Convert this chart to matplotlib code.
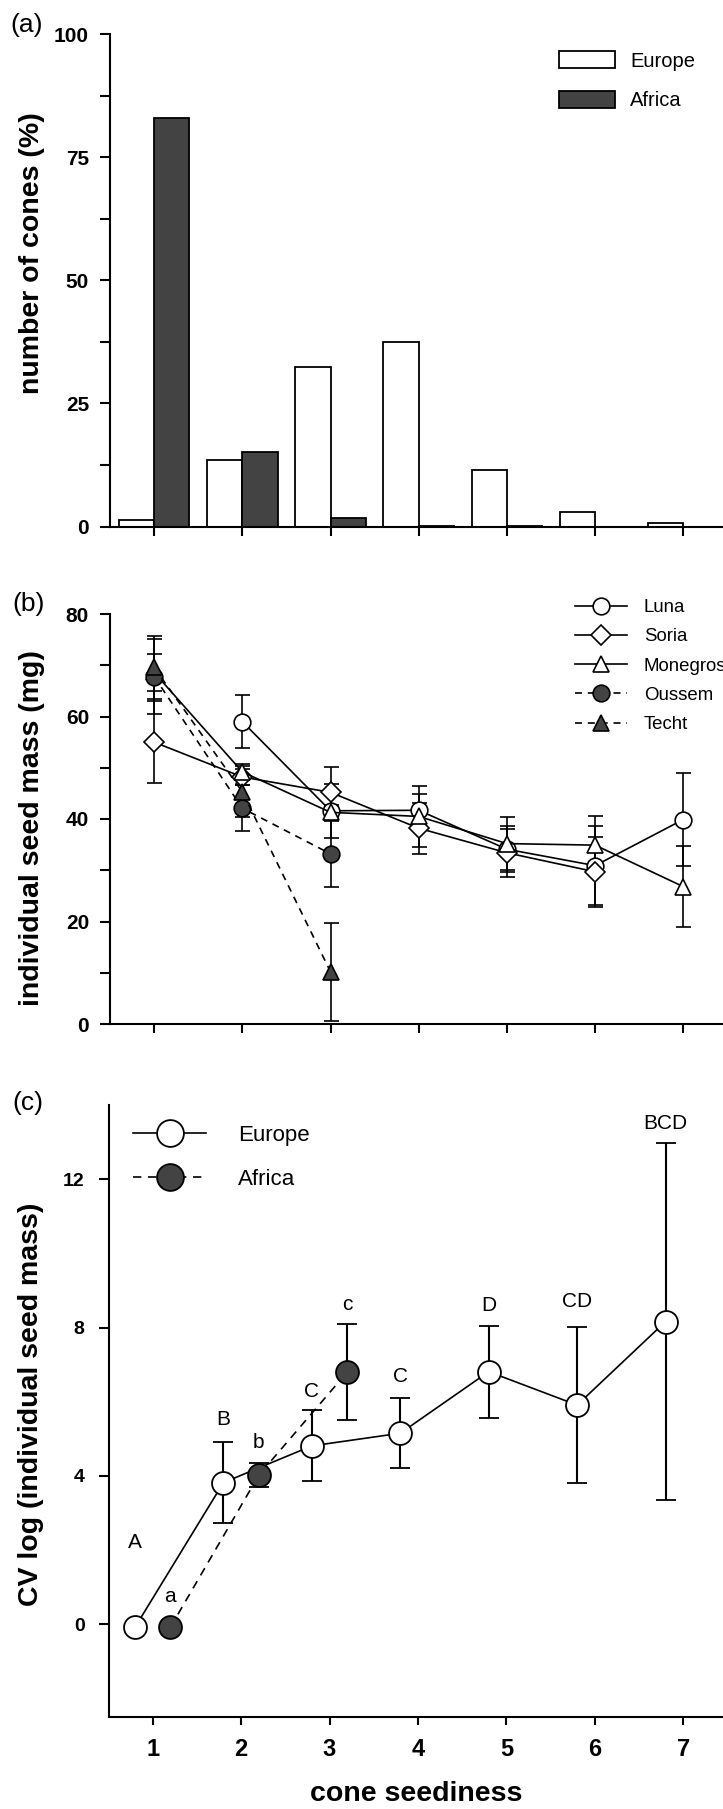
import numpy as np
import matplotlib
matplotlib.use("Agg")
import matplotlib.pyplot as plt
from matplotlib.patches import Patch

plt.rcParams['font.family'] = ['Liberation Sans', 'DejaVu Sans']

# ---- data ----
seediness = [1, 2, 3, 4, 5, 6, 7]
europe_pct = [1.3, 13.6, 32.4, 37.5, 11.5, 2.9, 0.7]
africa_pct = [83.0, 15.2, 1.7, 0.2, 0.2, 0.0, 0.0]

luna_x = [2, 3, 4, 5, 6, 7]
luna_y = [59.0, 41.6, 41.7, 34.1, 30.9, 39.9]
luna_err = [5.2, 5.3, 3.1, 4.5, 7.7, 9.0]
soria_x = [1, 2, 3, 4, 5, 6]
soria_y = [55.0, 48.2, 45.2, 38.2, 33.4, 29.7]
soria_err = [8.0, 1.5, 5.0, 5.0, 4.7, 6.8]
monegros_x = [1, 2, 3, 4, 5, 6, 7]
monegros_y = [68.6, 49.2, 41.3, 40.5, 35.2, 34.9, 26.8]
monegros_err = [3.6, 1.5, 1.5, 5.9, 5.1, 5.6, 7.9]
oussem_x = [1, 2, 3]
oussem_y = [67.8, 42.1, 33.2]
oussem_err = [7.3, 4.5, 6.5]
techt_x = [1, 2, 3]
techt_y = [69.6, 45.3, 10.2]
techt_err = [6.2, 5.0, 9.6]

cv_eu_x = [0.8, 1.8, 2.8, 3.8, 4.8, 5.8, 6.8]
cv_eu_y = [-0.08, 3.82, 4.81, 5.15, 6.81, 5.91, 8.16]
cv_eu_err = [0.0, 1.1, 0.96, 0.95, 1.24, 2.1, 4.82]
cv_eu_letters = ['A', 'B', 'C', 'C', 'D', 'CD', 'BCD']
cv_eu_letter_y = [2.21, 5.52, 6.27, 6.67, 8.6, 8.69, 13.49]
cv_af_x = [1.2, 2.2, 3.2]
cv_af_y = [-0.08, 4.02, 6.8]
cv_af_err = [0.0, 0.33, 1.3]
cv_af_letters = ['a', 'b', 'c']
cv_af_letter_y = [0.75, 4.89, 8.62]

GREY = '#434343'
W, H = 723, 1809

fig = plt.figure(figsize=(W / 100, H / 100), dpi=100)


def px_axes(left, top, right, bottom):
    return fig.add_axes([left / W, 1 - bottom / H, (right - left) / W, (bottom - top) / H])


def style(ax):
    for s in ['top', 'right']:
        ax.spines[s].set_visible(False)
    for s in ['left', 'bottom']:
        ax.spines[s].set_linewidth(1.5)
    ax.tick_params(axis='y', which='major', direction='out', length=7.2, width=1.5, pad=7.9,
                   labelsize=15)
    ax.tick_params(axis='y', which='minor', direction='out', length=7.2, width=1.5)
    ax.tick_params(axis='x', which='major', direction='out', length=6.2, width=1.5)
    ax.set_xlim(0.5, 7.45)
    ax.set_xticks(seediness)
    for lab in ax.get_yticklabels():
        lab.set_fontweight('bold')


# ---- (a) ----
ax_a = px_axes(110, 34, 723, 526.5)
x = np.array(seediness)
ax_a.bar(x - 0.2, europe_pct, width=0.4, color='white', edgecolor='black', linewidth=1.3, zorder=2)
ax_a.bar(x + 0.2, africa_pct, width=0.4, color=GREY, edgecolor='black', linewidth=1.3, zorder=2)
ax_a.set_ylim(0, 100)
ax_a.set_yticks([0, 25, 50, 75, 100])
ax_a.set_yticks([12.5, 37.5, 62.5, 87.5], minor=True)
style(ax_a)
ax_a.set_xticklabels([])
ax_a.legend(handles=[Patch(facecolor='white', edgecolor='black', linewidth=1.3, label='Europe'),
                     Patch(facecolor=GREY, edgecolor='black', linewidth=1.3, label='Africa')],
            loc='upper left', bbox_to_anchor=(559 / W, 1 - 51 / H), bbox_transform=fig.transFigure,
            frameon=False, fontsize=14.5, handlelength=2.78, handleheight=0.95,
            handletextpad=0.75, labelspacing=1.0, borderpad=0, borderaxespad=0)

# ---- (b) ----
ax_b = px_axes(110, 614, 723, 1024)
dash = (0, (4.2, 3.5))
common = dict(color='black', lw=1.2, ms=12, mew=1.2, mec='black', capsize=5.4,
              elinewidth=1.2, capthick=1.5)
ax_b.errorbar(luna_x, luna_y, yerr=luna_err, marker='o', mfc='white', ls='-', label='Luna', **common)
ax_b.errorbar(soria_x, soria_y, yerr=soria_err, marker='D', mfc='white', ls='-', label='Soria',
              **{**common, 'ms': 10})
ax_b.errorbar(monegros_x, monegros_y, yerr=monegros_err, marker='^', mfc='white', ls='-',
              label='Monegros', **common)
ax_b.errorbar(oussem_x, oussem_y, yerr=oussem_err, marker='o', mfc=GREY, ls=dash, label='Oussem', **common)
ax_b.errorbar(techt_x, techt_y, yerr=techt_err, marker='^', mfc=GREY, ls=dash, label='Techt', **common)
ax_b.set_ylim(0, 80)
ax_b.set_yticks([0, 20, 40, 60, 80])
ax_b.set_yticks([10, 30, 50, 70], minor=True)
style(ax_b)
ax_b.set_xticklabels([])
hb, lb = ax_b.get_legend_handles_labels()
ax_b.legend([h[0] for h in hb], lb, loc='upper left', bbox_to_anchor=(575 / W, 1 - 599 / H),
            bbox_transform=fig.transFigure, frameon=False, fontsize=13.4, handlelength=2.8,
            handletextpad=0.9, labelspacing=0.66, borderpad=0, borderaxespad=0)

# ---- (c) ----
ax_c = px_axes(108.5, 1105, 723, 1717)
eu_err = np.where(np.array(cv_eu_err) > 0, cv_eu_err, np.nan)
af_err = np.where(np.array(cv_af_err) > 0, cv_af_err, np.nan)
ax_c.errorbar(cv_eu_x, cv_eu_y, yerr=eu_err, marker='o', ms=16.5, mfc='white', mec='black', mew=1.3,
              color='black', lw=1.2, ls='-', capsize=7.2, elinewidth=1.5, capthick=1.5,
              label='Europe')
ax_c.errorbar(cv_af_x, cv_af_y, yerr=af_err, marker='o', ms=16.5, mfc=GREY, mec='black', mew=1.3,
              color='black', lw=1.2, ls=(0, (5, 4)), capsize=7.2, elinewidth=1.5, capthick=1.5,
              label='Africa')
for xx, yy, s in zip(cv_eu_x, cv_eu_letter_y, cv_eu_letters):
    ax_c.text(xx, yy, s, ha='center', va='center', fontsize=15)
for xx, yy, s in zip(cv_af_x, cv_af_letter_y, cv_af_letters):
    ax_c.text(xx, yy, s, ha='center', va='center', fontsize=15)
ax_c.set_ylim(-2.5, 14)
ax_c.set_yticks([0, 4, 8, 12])
style(ax_c)
ax_c.tick_params(axis='y', which='major', labelsize=14, pad=10)
ax_c.tick_params(axis='x', which='major', labelsize=17, pad=9, length=5.8)
for lab in ax_c.get_xticklabels() + ax_c.get_yticklabels():
    lab.set_fontweight('bold')
hc, lc = ax_c.get_legend_handles_labels()
ax_c.legend([h[0] for h in hc], lc, loc='upper left', bbox_to_anchor=(133 / W, 1 - 1125 / H),
            bbox_transform=fig.transFigure, frameon=False, fontsize=16, handlelength=3.3,
            handletextpad=1.44, labelspacing=1.02, borderpad=0, borderaxespad=0, markerscale=1.17)

# ---- labels ----
lab_kw = dict(fontsize=20.5, fontweight='bold', rotation=90, ha='center', va='center')
fig.text(32 / W, 1 - 253 / H, 'number of cones (%)', **lab_kw)
fig.text(32 / W, 1 - 828 / H, 'individual seed mass (mg)', **lab_kw)
fig.text(31 / W, 1 - 1404 / H, 'CV log (individual seed mass)', **lab_kw)
fig.text(416 / W, 1 - 1801 / H, 'cone seediness', fontsize=20.5, fontweight='bold',
         ha='center', va='baseline')
fig.text(10 / W, 1 - 32 / H, '(a)', fontsize=19, va='baseline')
fig.text(12 / W, 1 - 611 / H, '(b)', fontsize=19, va='baseline')
fig.text(12 / W, 1 - 1110 / H, '(c)', fontsize=19, va='baseline')

fig.savefig('out.png', dpi=100)
